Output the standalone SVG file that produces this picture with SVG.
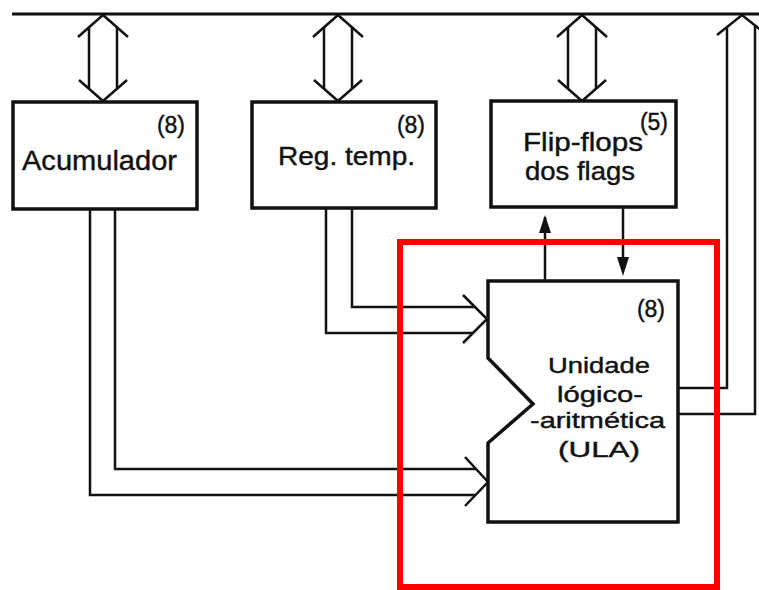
<svg xmlns="http://www.w3.org/2000/svg" width="759" height="590" viewBox="0 0 759 590">
<style>
.box{fill:#fff;stroke:#111;stroke-width:3.5;stroke-linejoin:miter}
.ln{fill:none;stroke:#111;stroke-width:2.5;stroke-linejoin:miter}
.t{font-family:"Liberation Sans",Arial,sans-serif;fill:#111;stroke:#111;stroke-width:0.4}
.n{font-size:23px;text-anchor:end}
</style>
<defs>
<g id="dbl">
<polyline class="ln" points="-25,37 0,15 25,37"/>
<polyline class="ln" points="-24,80 0,101 24,80"/>
<line class="ln" x1="-14" y1="27" x2="-14" y2="89"/>
<line class="ln" x1="14" y1="27" x2="14" y2="89"/>
</g>
</defs>

<g id="connectors">
<line x1="12" y1="14" x2="759" y2="14" stroke="#111" stroke-width="3"/>
<use href="#dbl" x="103" y="0"/>
<use href="#dbl" x="338" y="0"/>
<use href="#dbl" x="582" y="0"/>
<polyline class="ln" points="717,35 742,15 767,35"/>
<polyline class="ln" points="678,388 727,388 727,27"/>
<polyline class="ln" points="678,414 755,414 755,25"/>
<polyline class="ln" points="352,208 352,307 475,307"/>
<polyline class="ln" points="326,208 326,333 473,333"/>
<polyline class="ln" points="463,295 487,319 463,343"/>
<polyline class="ln" points="115,209 115,469 476,469"/>
<polyline class="ln" points="90,209 90,495 475,495"/>
<polyline class="ln" points="465,457 488,482 465,506"/>
<line class="ln" x1="545" y1="281" x2="545" y2="217"/>
<path d="M539,233 L545,215 L551,233 Z" fill="#111"/>
<line class="ln" x1="623" y1="207" x2="623" y2="262"/>
<path d="M617,257 L623,276 L629,257 Z" fill="#111"/>
</g>

<g id="acumulador">
<rect class="box" x="13" y="102" width="184" height="107"/>
<text class="t n" x="185" y="133">(8)</text>
<text class="t" x="22" y="170" font-size="27" textLength="155" lengthAdjust="spacingAndGlyphs">Acumulador</text>
</g>

<g id="reg-temp">
<rect class="box" x="252" y="102" width="184" height="106"/>
<text class="t n" x="425" y="133">(8)</text>
<text class="t" x="278" y="165" font-size="25" textLength="137" lengthAdjust="spacingAndGlyphs">Reg. temp.</text>
</g>

<g id="flip-flops">
<rect class="box" x="491" y="101" width="185" height="106"/>
<text class="t n" x="668" y="130">(5)</text>
<text class="t" x="523" y="151" font-size="25" textLength="120" lengthAdjust="spacingAndGlyphs">Flip-flops</text>
<text class="t" x="525" y="180" font-size="25" textLength="110" lengthAdjust="spacingAndGlyphs">dos flags</text>
</g>

<g id="ula">
<polygon class="box" points="488,281 678,281 678,522 488,522 488,443 533,404 488,358"/>
<text class="t n" x="665" y="317">(8)</text>
<text class="t" x="548" y="373" font-size="22" textLength="102" lengthAdjust="spacingAndGlyphs">Unidade</text>
<text class="t" x="557" y="402" font-size="22" textLength="86" lengthAdjust="spacingAndGlyphs">lógico-</text>
<text class="t" x="530" y="428" font-size="22" textLength="135" lengthAdjust="spacingAndGlyphs">-aritmética</text>
<text class="t" x="558" y="457" font-size="22" textLength="82" lengthAdjust="spacingAndGlyphs">(ULA)</text>
</g>

<rect x="400" y="242" width="317" height="345" fill="none" stroke="#f00" stroke-width="6"/>
</svg>
